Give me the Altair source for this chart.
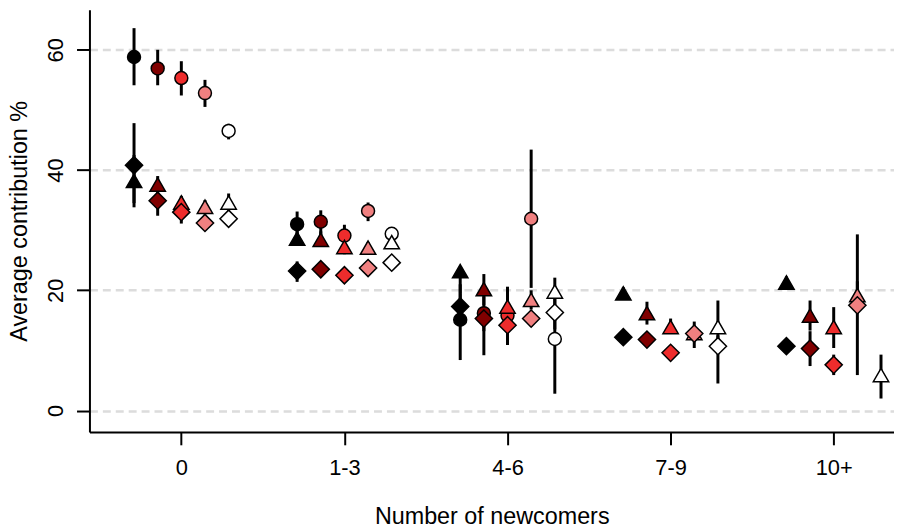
import json
import altair as alt
import pandas as pd

categories = ["0", "1-3", "4-6", "7-9", "10+"]
groups = ["g1", "g2", "g3", "g4", "g5"]
group_colors = ["#000000", "#800000", "#EE2C2C", "#F08080", "#FFFFFF"]

# rows: categories; columns: groups (black, dark red, red, pink, white)
circle_mean = [
    [58.8, 56.9, 55.3, 52.8, 46.5],
    [31.0, 31.4, 29.1, 33.2, 29.4],
    [15.1, 16.2, 15.8, 31.9, 11.9],
    [None, None, None, None, None],
    [None, None, None, None, None],
]
circle_lo = [
    [54.1, 54.1, 52.4, 50.5, 45.1],
    [28.9, 29.2, 27.6, 31.5, 28.3],
    [8.4, 13.2, 13.5, 20.4, 2.8],
    [None, None, None, None, None],
    [None, None, None, None, None],
]
circle_hi = [
    [63.6, 60.0, 58.1, 55.0, 47.7],
    [33.1, 33.3, 30.9, 34.6, 30.5],
    [21.0, 19.0, 18.0, 43.4, 15.0],
    [None, None, None, None, None],
    [None, None, None, None, None],
]

triangle_mean = [
    [38.2, 37.6, 34.6, 33.9, 34.6],
    [28.6, 28.4, 27.2, 27.1, 28.0],
    [23.2, 20.2, 17.3, 18.4, 19.8],
    [19.5, 16.2, 13.9, 12.9, 13.9],
    [21.3, 15.8, 13.9, 19.2, 5.9],
]
triangle_lo = [
    [33.8, 36.0, 33.3, 32.6, 33.2],
    [27.5, 27.3, 26.0, 26.2, 26.9],
    [19.5, 17.5, 14.5, 16.8, 17.5],
    [18.4, 14.3, 12.8, 11.5, 11.0],
    [20.3, 13.3, 10.4, 17.0, 2.0],
]
triangle_hi = [
    [42.5, 39.0, 35.7, 35.0, 36.1],
    [30.0, 29.8, 28.4, 28.0, 29.2],
    [23.5, 22.7, 20.6, 20.0, 22.1],
    [20.5, 18.1, 15.3, 14.8, 18.3],
    [22.3, 18.3, 17.2, 21.5, 9.3],
]

diamond_mean = [
    [40.8, 34.9, 33.0, 31.2, 31.9],
    [23.2, 23.5, 22.5, 23.7, 24.6],
    [17.3, 15.3, 14.2, 15.3, 16.3],
    [12.2, 11.8, 9.6, 12.8, 10.7],
    [10.7, 10.3, 7.6, 17.5, None],
]
diamond_lo = [
    [34.5, 32.4, 31.1, 30.3, 31.0],
    [21.4, 22.7, 21.8, 22.9, 23.9],
    [15.0, 9.2, 10.9, 14.0, 13.5],
    [11.5, 11.0, 9.0, 10.4, 4.5],
    [10.0, 7.4, 5.9, 5.9, None],
]
diamond_hi = [
    [47.8, 36.2, 34.2, 32.2, 32.8],
    [24.8, 24.3, 23.2, 24.5, 25.3],
    [19.5, 17.0, 17.0, 16.6, 19.0],
    [13.0, 12.6, 10.2, 13.8, 12.5],
    [11.4, 13.2, 9.3, 29.3, None],
]

series = {
    "circle": (circle_mean, circle_lo, circle_hi),
    "triangle": (triangle_mean, triangle_lo, triangle_hi),
    "diamond": (diamond_mean, diamond_lo, diamond_hi),
}

rows = []
for sname, (m, lo, hi) in series.items():
    for ci, cat in enumerate(categories):
        for gi, g in enumerate(groups):
            if m[ci][gi] is None:
                continue
            rows.append({
                "series": sname, "cat": cat, "ci": ci + 1, "grp": g, "gi": gi,
                "mean": m[ci][gi], "lo": lo[ci][gi], "hi": hi[ci][gi],
            })
df = pd.DataFrame(rows)

FONT = "Liberation Sans"
label_expr = json.dumps(categories) + "[datum.value - 1]"

x_axis = alt.Axis(values=[1, 2, 3, 4, 5], labelExpr=label_expr, title="Number of newcomers",
                  grid=False, titleY=92, titleBaseline="alphabetic",
                  labelBaseline="alphabetic", labelPadding=30, labelFlush=False)
y_axis = alt.Axis(values=[0, 20, 40, 60], title="Average contribution %", grid=True,
                  gridDash=[8, 5], gridColor="#dcdcdc", gridWidth=2.5,
                  labelAngle=270, labelAlign="center", labelBaseline="alphabetic",
                  labelPadding=14, titleAngle=270, titleX=-63, titleY=212.5,
                  titleBaseline="alphabetic")

xs = alt.Scale(domain=[0.43666, 5.3697], nice=False, zero=False)
ys = alt.Scale(domain=[-3.55, 66.66], nice=False, zero=False)

base = alt.Chart(df).transform_calculate(xpos="datum.ci + (datum.gi - 2) * 0.145")

rules = base.mark_rule(color="black", strokeWidth=3).encode(
    x=alt.X("xpos:Q", scale=xs, axis=x_axis),
    y=alt.Y("lo:Q", scale=ys, axis=y_axis),
    y2="hi:Q",
)

fill = alt.Fill("grp:N", scale=alt.Scale(domain=groups, range=group_colors), legend=None)

def pts(sname, shape, size):
    return base.transform_filter(alt.datum.series == sname).mark_point(
        shape=shape, size=size, filled=True, stroke="black", strokeWidth=1.5, opacity=1
    ).encode(
        x=alt.X("xpos:Q", scale=xs, axis=x_axis),
        y=alt.Y("mean:Q", scale=ys, axis=y_axis),
        fill=fill,
    )

chart = alt.layer(
    rules,
    pts("circle", "circle", 170),
    pts("triangle", "triangle-up", 240),
    pts("diamond", "diamond", 300),
).properties(
    width=810, height=425,
    autosize=alt.AutoSizeParams(type="none"),
    padding={"left": 82, "top": 0, "right": 0, "bottom": 95},
).configure_view(stroke=None).configure_axis(
    domainColor="black", domainWidth=2, tickColor="black", tickWidth=2, tickSize=13,
    labelColor="black", titleColor="black", labelFont=FONT, titleFont=FONT,
    labelFontSize=22, titleFontSize=23.5, titleFontWeight="normal",
)

chart.save("out.html", embed_options={"renderer": "svg", "actions": False})
